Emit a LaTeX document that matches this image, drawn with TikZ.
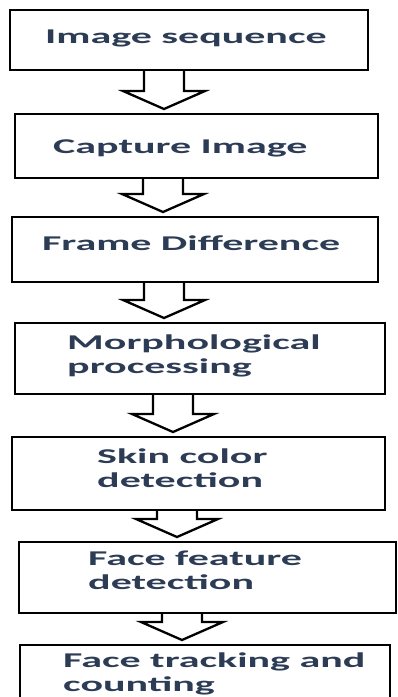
\documentclass[tikz,border=0pt]{standalone}
\usepackage{fontspec}
\newfontfamily\stepfont[FakeStretch=2.0]{Carlito}
\usetikzlibrary{calc}
\definecolor{inkblue}{RGB}{45,60,85}
\tikzset{
  procbox/.style={draw=black, line width=2.5pt, outer sep=0pt, inner sep=0pt},
  steptext/.style={text=inkblue, font=\stepfont\bfseries\fontsize{21}{24}\selectfont, align=left, inner sep=0pt, anchor=base west},
  hollowarrow/.style={draw=black, line width=2.3pt, line join=miter}
}
\newcommand{\blkarrow}[3]{%
  \draw[hollowarrow] let \p1=(#1.south), \p2=(#2.north) in
    (#3pt-20pt,\y1) -- (#3pt-20pt,\y2+23pt) -- (#3pt-41pt,\y2+23pt) -- (#3pt,\y2+5pt)
    -- (#3pt+41pt,\y2+23pt) -- (#3pt+20pt,\y2+23pt) -- (#3pt+20pt,\y1);
}
\begin{document}
\begin{tikzpicture}[x=1pt,y=-1pt]
\useasboundingbox (0,0) rectangle (398,697);
\node[procbox, minimum width=358pt, minimum height=60pt] (seq) at (189,40) {};
\node[procbox, minimum width=363pt, minimum height=64pt] (capture) at (196.5,146) {};
\node[procbox, minimum width=366pt, minimum height=65pt] (framediff) at (195,249.5) {};
\node[procbox, minimum width=370pt, minimum height=71pt] (morph) at (200,358.5) {};
\node[procbox, minimum width=373pt, minimum height=73pt] (skin) at (198.5,473.5) {};
\node[procbox, minimum width=377pt, minimum height=71pt] (feature) at (207.5,577.5) {};
\node[procbox, minimum width=370pt, minimum height=70pt] (tracking) at (205,680) {};

% base anchor of a two-line label sits on its last line
\node[steptext] (seqtxt) at (45,43) {Image sequence};
\node[steptext] (capturetxt) at (53,153) {Capture Image};
\node[steptext] (framedifftxt) at (42,250) {Frame Difference};
\node[steptext] (morphtxt) at (67,373) {Morphological\\processing};
\node[steptext] (skintxt) at (97,487) {Skin color\\detection};
\node[steptext] (featuretxt) at (88,589) {Face feature\\detection};
\node[steptext] (trackingtxt) at (63,691) {Face tracking and\\counting};

\blkarrow{seq}{capture}{164}
\blkarrow{capture}{framediff}{163}
\blkarrow{framediff}{morph}{164}
\blkarrow{morph}{skin}{173}
\blkarrow{skin}{feature}{177}
\blkarrow{feature}{tracking}{182}
\end{tikzpicture}
\end{document}
